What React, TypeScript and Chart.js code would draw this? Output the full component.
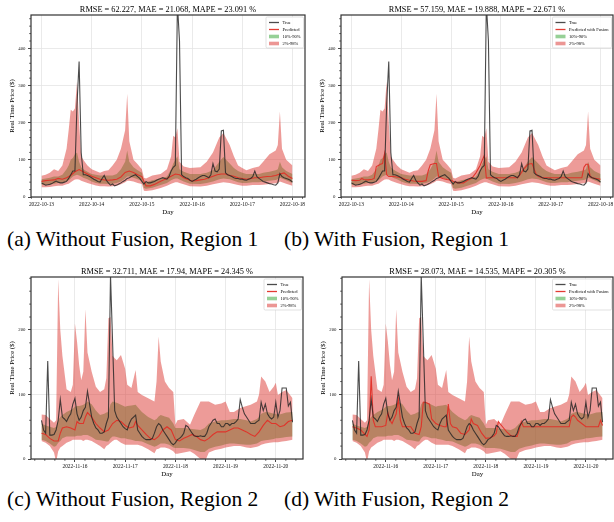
import React, { useEffect, useRef } from 'react';
import { Chart, registerables } from 'chart.js';
Chart.register(...registerables);

// ---------------- Region 1 (hours from 2022-10-13 00:00) ----------------
const R1_DAY_TICKS = [0, 24, 48, 72, 96, 120];
const R1_DAY_LABELS = ['2022-10-13', '2022-10-14', '2022-10-15', '2022-10-16', '2022-10-17', '2022-10-18'];
const R1_Y_TICKS = [0, 100, 200, 300, 400];

// hourly true price, h0..h120
const R1_TRUE = [
  38, 35, 32, 33, 34, 36, 40, 43, 40, 38,
  38, 40, 42, 50, 60, 70, 70, 250, 365, 120,
  60, 60, 58, 55, 52, 48, 45, 42, 40, 50,
  58, 45, 38, 32, 35, 30, 32, 35, 38, 42,
  45, 50, 52, 55, 58, 60, 55, 50, 42, 35,
  42, 38, 38, 40, 42, 45, 48, 50, 52, 50,
  48, 55, 70, 80, 85, 520, 420, 60, 55, 52,
  50, 45, 42, 45, 48, 52, 55, 58, 58, 55,
  52, 60, 90, 70, 68, 75, 178, 180, 65, 60,
  58, 55, 52, 50, 50, 48, 48, 46, 45, 48,
  50, 55, 70, 55, 50, 46, 42, 40, 38, 36,
  35, 33, 32, 38, 63, 55, 52, 50, 48, 45,
  40,
];

const R1_PRED_H = [0, 2, 4, 6, 8, 10, 12, 14, 16, 18, 20, 22, 24, 26, 28, 30, 32, 34, 36, 38, 40, 42, 44, 46, 48, 50, 52, 54, 56, 58, 60, 62, 64, 66, 68, 70, 72, 74, 76, 78, 80, 82, 84, 86, 88, 90, 92, 94, 96, 98, 100, 102, 104, 106, 108, 110, 112, 114, 116, 118, 120];
const R1_PRED = [42, 44, 45, 46, 50, 48, 52, 58, 68, 74, 68, 62, 56, 52, 48, 46, 45, 46, 48, 54, 66, 70, 66, 60, 55, 30, 30, 34, 40, 45, 50, 56, 62, 60, 52, 47, 43, 44, 46, 48, 52, 56, 60, 62, 62, 58, 56, 52, 50, 48, 50, 52, 52, 54, 55, 56, 58, 62, 65, 56, 50];

const R1_FUSED_H = [0, 2, 4, 5, 6, 8, 10, 11, 12, 13, 14, 15, 16, 17, 18, 20, 22, 24, 26, 28, 30, 32, 34, 36, 37, 38, 40, 41, 42, 44, 46, 48, 50, 52, 54, 56, 58, 60, 62, 64, 65, 66, 68, 72, 76, 80, 81, 83, 85, 87, 88, 89, 90, 92, 96, 100, 104, 108, 111, 112, 113, 114, 115, 116, 118, 120];
const R1_FUSED = [45, 44, 45, 50, 47, 46, 48, 50, 82, 85, 88, 90, 118, 60, 55, 55, 54, 52, 48, 45, 43, 42, 42, 44, 70, 87, 90, 90, 55, 50, 47, 45, 40, 38, 38, 45, 50, 65, 85, 112, 51, 52, 52, 52, 52, 52, 58, 75, 88, 90, 75, 62, 55, 52, 52, 52, 52, 52, 52, 80, 88, 88, 55, 52, 50, 48];

const R1_BAND_H = [0, 2, 4, 6, 8, 10, 12, 13, 14, 15, 16, 17, 18, 19, 20, 22, 24, 26, 28, 30, 32, 34, 36, 38, 40, 41, 42, 44, 46, 48, 49, 50, 53, 57, 60, 62, 63, 64, 65, 66, 68, 71, 76, 79, 82, 85, 87, 90, 92, 94, 96, 98, 101, 104, 106, 109, 112, 113, 114, 115, 117, 120];
const R1_Q98 = [57, 60, 65, 75, 70, 85, 130, 180, 235, 230, 238, 310, 200, 110, 100, 85, 75, 70, 65, 70, 72, 85, 100, 130, 180, 278, 150, 100, 88, 75, 52, 50, 58, 62, 75, 110, 165, 160, 185, 95, 82, 78, 80, 95, 120, 160, 172, 140, 110, 85, 78, 72, 78, 82, 95, 115, 125, 140, 230, 130, 100, 85];
const R1_Q90 = [48, 50, 52, 55, 55, 60, 75, 85, 100, 105, 115, 120, 95, 80, 75, 68, 62, 60, 58, 58, 58, 58, 62, 75, 95, 125, 95, 80, 72, 65, 42, 40, 45, 50, 55, 75, 90, 100, 110, 75, 68, 62, 62, 65, 72, 95, 108, 90, 78, 70, 65, 62, 62, 62, 65, 68, 72, 75, 95, 80, 70, 62];
const R1_Q10 = [33, 33, 34, 36, 38, 38, 42, 45, 50, 55, 58, 60, 58, 55, 52, 48, 42, 38, 36, 36, 35, 36, 38, 42, 50, 55, 55, 52, 48, 44, 24, 22, 25, 32, 38, 45, 48, 50, 50, 47, 42, 36, 35, 38, 42, 48, 50, 48, 44, 40, 38, 38, 40, 40, 42, 44, 46, 48, 52, 50, 45, 38];
const R1_Q02 = [26, 26, 27, 29, 30, 30, 34, 36, 40, 44, 47, 48, 47, 44, 42, 38, 34, 31, 29, 29, 28, 29, 30, 34, 40, 44, 44, 42, 38, 35, 17, 16, 18, 24, 30, 36, 38, 40, 40, 38, 34, 29, 28, 30, 34, 38, 40, 38, 35, 32, 30, 30, 32, 32, 33, 35, 37, 38, 42, 40, 36, 30];

// ---------------- Region 2 (hours from 2022-11-15 08:00) ----------------
const R2_DAY_TICKS = [16, 40, 64, 88, 112];
const R2_DAY_LABELS = ['2022-11-16', '2022-11-17', '2022-11-18', '2022-11-19', '2022-11-20'];
const R2_Y_TICKS = [0, 100, 200];

const R2_TRUE = [
  60, 45, 40, 152, 37, 37, 38, 45, 60, 92,
  65, 62, 58, 65, 70, 85, 94, 70, 60, 65,
  75, 80, 105, 85, 65, 55, 48, 45, 40, 40,
  42, 55, 65, 285, 180, 75, 65, 60, 55, 50,
  47, 45, 55, 62, 65, 68, 45, 40, 35, 32,
  30, 30, 30, 32, 40, 50, 55, 52, 45, 40,
  35, 30, 25, 22, 25, 30, 32, 35, 40, 52,
  50, 45, 40, 36, 35, 35, 36, 35, 35, 40,
  50, 55, 60, 62, 55, 55, 50, 50, 55, 55,
  52, 55, 55, 58, 62, 92, 80, 70, 65, 60,
  55, 55, 55, 58, 60, 88, 75, 85, 70, 65,
  62, 65, 88, 65, 75, 110, 110, 110, 82, 88,
  57,
];

const R2_PRED_H = [0, 2, 4, 6, 8, 9, 10, 12, 14, 16, 17, 18, 20, 21, 22, 24, 26, 28, 30, 32, 34, 36, 38, 40, 42, 44, 45, 46, 48, 50, 52, 54, 56, 58, 60, 62, 64, 66, 68, 70, 72, 74, 76, 78, 80, 82, 84, 86, 88, 90, 92, 94, 96, 98, 100, 102, 104, 106, 108, 110, 112, 114, 116, 118, 120];
const R2_PRED = [40, 38, 32, 28, 28, 40, 48, 50, 48, 45, 58, 55, 55, 65, 72, 65, 55, 48, 42, 45, 55, 60, 58, 52, 48, 50, 58, 52, 45, 38, 32, 30, 35, 45, 50, 45, 30, 28, 32, 35, 38, 35, 30, 28, 32, 38, 42, 42, 42, 45, 48, 48, 45, 42, 38, 35, 42, 52, 60, 55, 55, 50, 52, 58, 60];

const R2_FUSED_H = [0, 2, 4, 6, 7, 8, 9, 10, 11, 14, 16, 17, 18, 19, 21, 22, 23, 24, 26, 28, 30, 32, 33, 34, 35, 37, 38, 40, 42, 44, 45, 46, 47, 48, 50, 52, 54, 56, 57, 58, 60, 62, 64, 66, 68, 69, 70, 72, 74, 76, 78, 79, 80, 81, 82, 86, 90, 94, 98, 102, 104, 105, 106, 107, 108, 110, 112, 114, 116, 118, 119, 120];
const R2_FUSED = [50, 48, 45, 38, 35, 45, 128, 60, 50, 50, 52, 72, 60, 55, 70, 94, 60, 50, 50, 50, 40, 38, 50, 88, 88, 85, 62, 55, 52, 50, 50, 85, 55, 50, 48, 40, 38, 45, 62, 55, 52, 40, 32, 33, 36, 40, 58, 50, 42, 36, 35, 35, 45, 58, 50, 50, 50, 50, 50, 50, 50, 65, 68, 65, 60, 55, 50, 50, 50, 50, 60, 52];

const R2_BAND_H = [0, 2, 4, 6, 7, 8, 9, 10, 12, 14, 15, 16, 17, 18, 19, 20, 21, 22, 24, 26, 28, 30, 31, 32, 33, 34, 35, 36, 38, 40, 41, 43, 45, 46, 48, 51, 54, 55, 56, 57, 59, 61, 63, 64, 65, 68, 71, 73, 76, 78, 80, 83, 86, 88, 90, 92, 95, 98, 100, 103, 104, 105, 107, 109, 111, 112, 113, 115, 117, 120];
const R2_Q98 = [69, 68, 62, 56, 60, 279, 200, 160, 108, 104, 115, 210, 182, 146, 122, 135, 232, 165, 135, 112, 104, 108, 125, 218, 220, 160, 156, 153, 161, 140, 115, 110, 138, 104, 99, 94, 89, 120, 190, 151, 120, 110, 104, 53, 60, 62, 53, 68, 89, 89, 89, 84, 86, 89, 73, 73, 79, 82, 84, 89, 100, 128, 120, 104, 112, 118, 99, 104, 107, 94];
const R2_Q90 = [55, 52, 50, 48, 50, 60, 65, 68, 73, 76, 78, 81, 82, 82, 83, 84, 86, 89, 85, 75, 68, 70, 72, 73, 85, 89, 88, 87, 84, 81, 82, 83, 84, 80, 73, 65, 60, 62, 66, 68, 66, 64, 55, 48, 48, 48, 47, 46, 45, 48, 55, 58, 60, 60, 61, 62, 62, 60, 58, 62, 65, 70, 73, 72, 70, 70, 68, 70, 72, 73];
const R2_Q10 = [30, 28, 24, 19, 20, 25, 28, 32, 35, 35, 35, 35, 36, 36, 36, 37, 37, 37, 34, 30, 29, 28, 27, 27, 32, 35, 35, 34, 32, 32, 31, 30, 28, 28, 27, 23, 19, 20, 22, 24, 24, 22, 18, 17, 17, 17, 16, 14, 11, 11, 16, 19, 21, 23, 24, 24, 23, 22, 22, 24, 26, 28, 29, 30, 31, 32, 32, 33, 34, 35];
const R2_Q02 = [28, 25, 20, 10, -5, 12, 18, 20, 25, 28, 30, 30, 30, 30, 30, 28, 30, 30, 28, 24, 20, 15, 20, 22, 25, 28, 30, 30, 25, 22, 22, 22, 22, 22, 20, 15, 9, 15, 16, 18, 18, 16, 12, 8, 8, 10, 12, 8, 0, -5, 10, 14, 16, 18, 19, 20, 20, 18, 17, 19, 20, 22, 24, 25, 26, 26, 26, 27, 28, 30];

// ---------------- styling ----------------
const SERIF = '"Liberation Serif", "Times New Roman", serif';
const C_TRUE = 'rgba(35,35,35,0.82)';
const C_PRED = 'rgba(226,48,40,0.95)';
const C_OUTER = 'rgba(220,55,50,0.5)';
const C_INNER = 'rgba(44,160,44,0.5)';
const C_OUTER_SW = 'rgb(236,150,148)';
const C_INNER_SW = 'rgb(150,208,150)';

const REGIONS: any = {
  1: {
    trueV: R1_TRUE, predH: R1_PRED_H, pred: R1_PRED, fusedH: R1_FUSED_H, fused: R1_FUSED,
    bandH: R1_BAND_H, q98: R1_Q98, q90: R1_Q90, q10: R1_Q10, q02: R1_Q02,
    xMin: -5, xMax: 126, yMax: 490, yTicks: R1_Y_TICKS, dayTicks: R1_DAY_TICKS, dayLabels: R1_DAY_LABELS,
  },
  2: {
    trueV: R2_TRUE, predH: R2_PRED_H, pred: R2_PRED, fusedH: R2_FUSED_H, fused: R2_FUSED,
    bandH: R2_BAND_H, q98: R2_Q98, q90: R2_Q90, q10: R2_Q10, q02: R2_Q02,
    xMin: -5, xMax: 125, yMax: 282, yTicks: R2_Y_TICKS, dayTicks: R2_DAY_TICKS, dayLabels: R2_DAY_LABELS,
  },
};

const PANELS = [
  { key: 'a', region: 1, fusedPred: false, title: 'RMSE = 62.227, MAE = 21.068, MAPE = 23.091 %', predLabel: 'Predicted',
    canvas: [0, 0, 308, 220], area: [31, 15, 305, 197], caption: '(a) Without Fusion, Region 1', cap: [7, 229] },
  { key: 'b', region: 1, fusedPred: true, title: 'RMSE = 57.159, MAE = 19.888, MAPE = 22.671 %', predLabel: 'Predicted with Fusion',
    canvas: [308, 0, 306, 220], area: [341, 15, 613, 197], caption: '(b) With Fusion, Region 1', cap: [284, 229] },
  { key: 'c', region: 2, fusedPred: false, title: 'RMSE = 32.711, MAE = 17.94, MAPE = 24.345 %', predLabel: 'Predicted',
    canvas: [0, 258, 308, 222], area: [31, 277, 303, 459], caption: '(c) Without Fusion, Region 2', cap: [7, 489] },
  { key: 'd', region: 2, fusedPred: true, title: 'RMSE = 28.073, MAE = 14.535, MAPE = 20.305 %', predLabel: 'Predicted with Fusion',
    canvas: [308, 258, 306, 222], area: [342, 277, 613, 459], caption: '(d) With Fusion, Region 2', cap: [284, 489] },
];

function pts(H: number[], V: number[]) {
  return H.map((h, i) => ({ x: h, y: V[i] }));
}
function hourly(V: number[]) {
  return V.map((v, i) => ({ x: i, y: v }));
}

function Panel({ p }: { p: any }) {
  const ref = useRef<HTMLCanvasElement | null>(null);
  const [cx, cy, cw, chh] = p.canvas;
  useEffect(() => {
    const R = REGIONS[p.region];
    const ca = { l: p.area[0] - cx, t: p.area[1] - cy, r: p.area[2] - cx, b: p.area[3] - cy };

    const deco = {
      id: 'deco',
      afterDraw(chart: any) {
        const { ctx, chartArea: a, scales } = chart;
        const xs = scales.x, ys = scales.y;
        ctx.save();
        // minor ticks
        ctx.strokeStyle = '#333';
        ctx.lineWidth = 0.8;
        ctx.beginPath();
        for (let v = 20; v <= R.yMax; v += 20) {
          if (v % 100 === 0) continue;
          const y = ys.getPixelForValue(v);
          ctx.moveTo(a.left - 1.8, y);
          ctx.lineTo(a.left, y);
        }
        const t0 = R.dayTicks[0];
        for (let k = -10; k < 40; k++) {
          if (k % 5 === 0) continue;
          const v = t0 + k * 4.8;
          if (v < R.xMin || v > R.xMax) continue;
          const x = xs.getPixelForValue(v);
          ctx.moveTo(x, a.bottom);
          ctx.lineTo(x, a.bottom + 1.8);
        }
        ctx.stroke();
        // frame
        ctx.strokeStyle = '#333';
        ctx.lineWidth = 1.2;
        ctx.strokeRect(a.left, a.top, a.right - a.left, a.bottom - a.top);
        // title
        ctx.fillStyle = '#000';
        ctx.textAlign = 'center';
        ctx.textBaseline = 'middle';
        ctx.font = `8.3px ${SERIF}`;
        ctx.fillText(p.title, (a.left + a.right) / 2, a.top - 5.5);
        // axis titles
        ctx.font = `6.8px ${SERIF}`;
        ctx.fillText('Day', (a.left + a.right) / 2, a.bottom + 15);
        ctx.save();
        ctx.translate(a.left - 19, (a.top + a.bottom) / 2);
        ctx.rotate(-Math.PI / 2);
        ctx.fillText('Real Time Price ($)', 0, 0);
        ctx.restore();
        // legend
        const labels = ['True', p.predLabel, '10%-90%', '2%-98%'];
        ctx.font = `4.5px ${SERIF}`;
        const tw = Math.max(...labels.map((l) => ctx.measureText(l).width));
        const pad = 3, hl = 10, gap = 3.5, rowH = 7;
        const bw = pad + hl + gap + tw + pad;
        const bh = 31;
        const bx = a.right - 1.5 - bw;
        const by = a.top + 2;
        ctx.fillStyle = 'rgba(255,255,255,0.85)';
        ctx.strokeStyle = '#cfcfcf';
        ctx.lineWidth = 0.6;
        ctx.beginPath();
        if ((ctx as any).roundRect) (ctx as any).roundRect(bx, by, bw, bh, 1.2);
        else ctx.rect(bx, by, bw, bh);
        ctx.fill();
        ctx.stroke();
        labels.forEach((lab, i) => {
          const yy = by + 5.5 + i * rowH;
          const hx = bx + pad;
          if (i === 0 || i === 1) {
            ctx.strokeStyle = i === 0 ? C_TRUE : C_PRED;
            ctx.lineWidth = 1.3;
            ctx.beginPath();
            ctx.moveTo(hx, yy);
            ctx.lineTo(hx + hl, yy);
            ctx.stroke();
          } else {
            ctx.fillStyle = i === 2 ? C_INNER_SW : C_OUTER_SW;
            ctx.fillRect(hx, yy - 1.8, hl, 3.6);
          }
          ctx.fillStyle = '#000';
          ctx.textAlign = 'left';
          ctx.fillText(lab, hx + hl + gap, yy + 0.3);
        });
        ctx.restore();
      },
    };

    const predH = p.fusedPred ? R.fusedH : R.predH;
    const predV = p.fusedPred ? R.fused : R.pred;

    const chart = new Chart(ref.current as HTMLCanvasElement, {
      type: 'line',
      data: {
        datasets: [
          { label: 'True', data: hourly(R.trueV), borderColor: C_TRUE, borderWidth: 1.1, pointRadius: 0, fill: false, tension: 0 },
          { label: p.predLabel, data: pts(predH, predV), borderColor: C_PRED, borderWidth: 1.1, pointRadius: 0, fill: false, tension: 0 },
          { label: '2%-98%', data: pts(R.bandH, R.q98), borderColor: 'rgba(0,0,0,0)', borderWidth: 0, pointRadius: 0, backgroundColor: C_OUTER, fill: 3, tension: 0 },
          { label: 'q02', data: pts(R.bandH, R.q02), borderColor: 'rgba(0,0,0,0)', borderWidth: 0, pointRadius: 0, fill: false, tension: 0 },
          { label: '10%-90%', data: pts(R.bandH, R.q90), borderColor: 'rgba(0,0,0,0)', borderWidth: 0, pointRadius: 0, backgroundColor: C_INNER, fill: 5, tension: 0 },
          { label: 'q10', data: pts(R.bandH, R.q10), borderColor: 'rgba(0,0,0,0)', borderWidth: 0, pointRadius: 0, fill: false, tension: 0 },
        ],
      },
      options: {
        responsive: false,
        animation: false,
        devicePixelRatio: 1,
        events: [],
        layout: { padding: { left: 0, top: ca.t, right: cw - ca.r, bottom: 0 } },
        plugins: { legend: { display: false }, tooltip: { enabled: false }, title: { display: false } },
        scales: {
          x: {
            type: 'linear',
            min: R.xMin,
            max: R.xMax,
            afterFit: (sc: any) => { sc.height = chh - ca.b; sc.paddingLeft = 0; sc.paddingRight = 0; },
            afterBuildTicks: (sc: any) => { sc.ticks = R.dayTicks.map((v: number) => ({ value: v })); },
            ticks: {
              autoSkip: false, maxRotation: 0, minRotation: 0, padding: 1.5, color: '#111',
              font: { family: SERIF, size: 5.4 },
              callback: (v: any) => R.dayLabels[R.dayTicks.indexOf(Number(v))] ?? '',
            },
            grid: { color: '#e4e4e4', lineWidth: 0.8, tickColor: '#333', tickLength: 3, tickWidth: 0.9, drawTicks: true },
            border: { display: false },
          },
          y: {
            type: 'linear',
            min: 0,
            max: R.yMax,
            afterFit: (sc: any) => { sc.width = ca.l; sc.paddingTop = 0; sc.paddingBottom = 0; },
            afterBuildTicks: (sc: any) => { sc.ticks = R.yTicks.map((v: number) => ({ value: v })); },
            ticks: { padding: 2.5, color: '#111', font: { family: SERIF, size: 4.8 }, callback: (v: any) => String(v) },
            grid: { color: '#e4e4e4', lineWidth: 0.8, tickColor: '#333', tickLength: 3, tickWidth: 0.9, drawTicks: true },
            border: { display: false },
          },
        },
      },
      plugins: [deco],
    } as any);
    return () => chart.destroy();
  }, []);
  return (
    <canvas
      ref={ref}
      width={cw}
      height={chh}
      style={{ position: 'absolute', left: cx, top: cy, width: cw, height: chh, display: 'block' }}
    />
  );
}

export default function App() {
  return (
    <div style={{ position: 'fixed', left: 0, top: 0, width: 614, height: 522, background: '#fff', overflow: 'hidden' }}>
      {PANELS.map((p) => (
        <Panel key={p.key} p={p} />
      ))}
      {PANELS.map((p) => (
        <div
          key={'cap' + p.key}
          style={{
            position: 'absolute', left: p.cap[0], top: p.cap[1], fontFamily: SERIF, fontSize: 21.5,
            lineHeight: 1, whiteSpace: 'nowrap', color: '#000',
          }}
        >
          {p.caption}
        </div>
      ))}
    </div>
  );
}
